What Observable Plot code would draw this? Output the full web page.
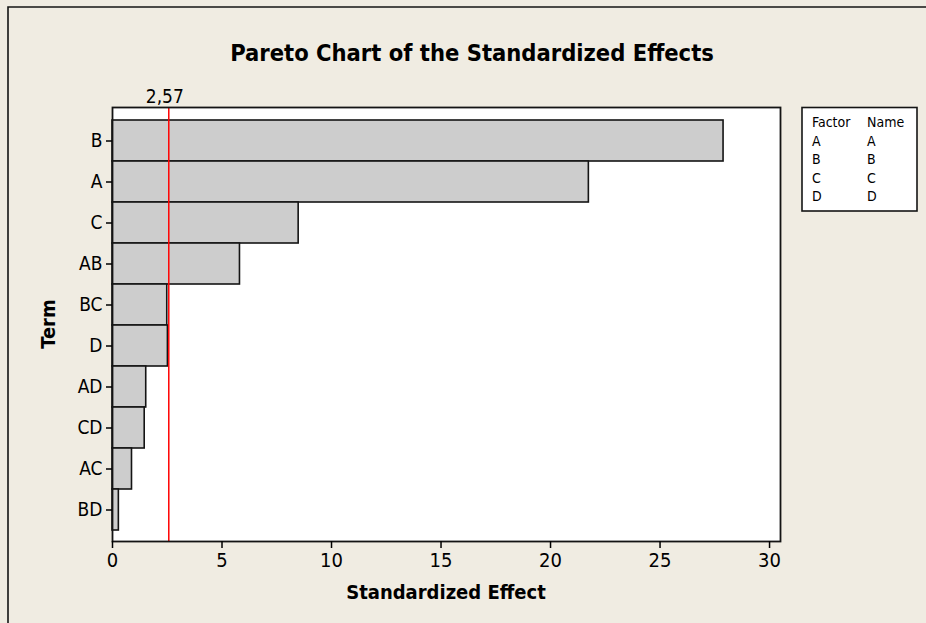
<!DOCTYPE html>
<html><head><meta charset="utf-8">
<script src="https://cdn.jsdelivr.net/npm/d3@7"></script>
<script src="https://cdn.jsdelivr.net/npm/@observablehq/plot@0.6"></script>
<style>html,body{margin:0;padding:0;background:#f0ece2} svg{display:block}</style>
</head><body><div id="chart"></div>
<script>
const terms = ["B","A","C","AB","BC","D","AD","CD","AC","BD"];
const effects = [27.9,21.75,8.5,5.82,2.5,2.53,1.54,1.47,0.89,0.29];
const threshold = 2.57;
const xTicks = [0,5,10,15,20,25,30];
const legendFactors = ["A","B","C","D"];
const legendNames = ["A","B","C","D"];
const titleText = "Pareto Chart of the Standardized Effects";
const xLabel = "Standardized Effect";
const yLabel = "Term";

const data = terms.map((t,i)=>({term:t, effect:effects[i]}));
const FONT = "'DejaVu Sans Condensed', 'DejaVu Sans', sans-serif";

const W = 926, H = 623;
const chart = Plot.plot({
  width: W, height: H,
  marginLeft: 112, marginRight: 146, marginTop: 107, marginBottom: 82,
  style: {fontFamily: FONT, background: "transparent", color: "black", overflow: "visible"},
  x: {domain: [0, 30.5]},
  y: {domain: terms, padding: 0, insetTop: 10.3, insetBottom: 8.7},
  marks: [
    Plot.frame({fill: "white", stroke: null}),
    Plot.barX(data, {x: "effect", y: "term", fill: "#cdcdcd", stroke: "#141414", strokeWidth: 1.6}),
    Plot.ruleX([threshold], {stroke: "#ff0000", strokeWidth: 1.5}),
    Plot.frame({stroke: "#141414", strokeWidth: 1.8}),
    Plot.axisX({ticks: xTicks, tickSize: 7, tickPadding: 4, fontSize: 20, label: null, strokeWidth: 1.5, tickFormat: d => String(d)}),
    Plot.axisY({tickSize: 6, tickPadding: 4, fontSize: 19, label: null, strokeWidth: 1.5}),
    Plot.text([threshold], {x: d => d, frameAnchor: "top", lineAnchor: "bottom", dy: -5, dx: -4, fontSize: 19, text: d => String(d).replace(".", ",")})
  ]
});
document.getElementById("chart").appendChild(chart);

const svg = d3.select(chart);
// outer border
svg.insert("path", ":first-child")
  .attr("d", `M8,${H} L8,7 L${W},7`)
  .attr("fill", "none").attr("stroke", "#141414").attr("stroke-width", 1.6);

svg.append("text").attr("x", 472).attr("y", 61)
  .attr("text-anchor", "middle").attr("font-weight", "bold").attr("font-size", 23.5)
  .attr("font-family", FONT).attr("fill", "black").text(titleText);

svg.append("text").attr("x", 446).attr("y", 599)
  .attr("text-anchor", "middle").attr("font-weight", "bold").attr("font-size", 20)
  .attr("font-family", FONT).attr("fill", "black").text(xLabel);

svg.append("text").attr("transform", "translate(55,324) rotate(-90)")
  .attr("text-anchor", "middle").attr("font-weight", "bold").attr("font-size", 20)
  .attr("font-family", FONT).attr("fill", "black").text(yLabel);

// legend box
const lg = svg.append("g").attr("text-anchor", "start").attr("font-size", 14).attr("font-family", FONT).attr("fill", "black");
lg.append("rect").attr("x", 802).attr("y", 107.5).attr("width", 115).attr("height", 103.5)
  .attr("fill", "white").attr("stroke", "#141414").attr("stroke-width", 1.6);
const rowsY = [127, 145.7, 164.2, 182.7, 201];
lg.append("text").attr("x", 812).attr("y", rowsY[0]).text("Factor");
lg.append("text").attr("x", 867).attr("y", rowsY[0]).text("Name");
legendFactors.forEach((f, i) => {
  lg.append("text").attr("x", 812).attr("y", rowsY[i+1]).text(f);
  lg.append("text").attr("x", 867).attr("y", rowsY[i+1]).text(legendNames[i]);
});
</script>
</body></html>
